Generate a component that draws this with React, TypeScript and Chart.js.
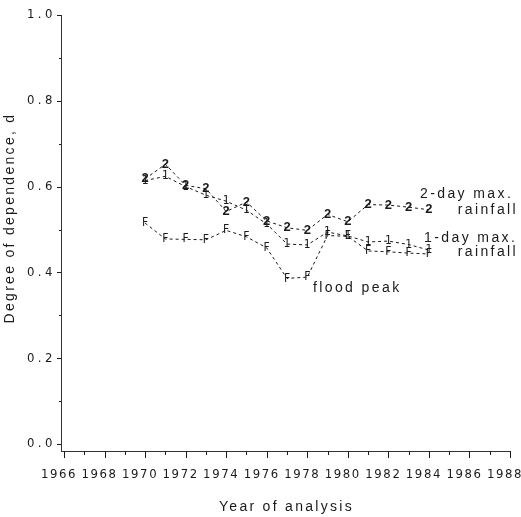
import React, { useEffect, useRef } from 'react';
import { Chart, registerables } from 'chart.js';

Chart.register(...registerables);

// ---- data ----
const years = [1970, 1971, 1972, 1973, 1974, 1975, 1976, 1977, 1978, 1979, 1980, 1981, 1982, 1983, 1984];
const twoDayMax = [0.618, 0.652, 0.603, 0.595, 0.542, 0.564, 0.52, 0.504, 0.498, 0.535, 0.518, 0.558, 0.557, 0.552, 0.546];
const oneDayMax = [0.614, 0.624, 0.6, 0.58, 0.566, 0.545, 0.513, 0.466, 0.464, 0.494, 0.485, 0.471, 0.473, 0.465, 0.452];
const floodPeak = [0.515, 0.478, 0.477, 0.476, 0.498, 0.483, 0.457, 0.386, 0.389, 0.486, 0.484, 0.45, 0.448, 0.445, 0.443];

const seriesMarkers = ['2', '1', 'F'];

const xTickValues = [1966, 1967, 1968, 1969, 1970, 1971, 1972, 1973, 1974, 1975, 1976, 1977, 1978, 1979, 1980, 1981, 1982, 1983, 1984, 1985, 1986, 1987, 1988];
const xTickLabels = ['1966', '1968', '1970', '1972', '1974', '1976', '1978', '1980', '1982', '1984', '1986', '1988'];
const yTickValues = [0, 0.1, 0.2, 0.3, 0.4, 0.5, 0.6, 0.7, 0.8, 0.9, 1.0];
const yTickLabels = ['0.0', '0.2', '0.4', '0.6', '0.8', '1.0'];

const xTitle = 'Year of analysis';
const yTitle = 'Degree of dependence, d';

// annotation texts anchored in data coordinates
const annotations = [
  { text: '2-day max.', x: 1983.56, y: 0.583, align: 'left' },
  { text: 'rainfall', x: 1988.4, y: 0.545, align: 'right' },
  { text: '1-day max.', x: 1983.76, y: 0.48, align: 'left' },
  { text: 'rainfall', x: 1988.4, y: 0.448, align: 'right' },
  { text: 'flood peak', x: 1978.28, y: 0.364, align: 'left' },
];

const NARROW = '"Liberation Sans Narrow", "DejaVu Sans Condensed", "Liberation Sans", sans-serif';
const SANS = '"Liberation Sans", Arial, sans-serif';
const INK = '#1a1a1a';

function spaced(ctx: any, spacing: number, fn: () => void) {
  ctx.save();
  ctx.letterSpacing = spacing + 'px';
  fn();
  ctx.restore();
}

const paperPlugin = {
  id: 'paperPlot',
  afterDatasetsDraw(chart: any) {
    const ctx = chart.ctx;
    ctx.save();
    ctx.fillStyle = INK;
    ctx.textAlign = 'center';
    ctx.textBaseline = 'middle';
    chart.data.datasets.forEach((ds: any, di: number) => {
      const meta = chart.getDatasetMeta(di);
      const ch = seriesMarkers[di];
      ctx.font = di === 0 ? 'bold 13px ' + SANS : '12px ' + NARROW;
      meta.data.forEach((pt: any) => {
        ctx.fillText(ch, pt.x, pt.y);
      });
    });
    ctx.restore();
  },
  afterDraw(chart: any) {
    const ctx = chart.ctx;
    const xs = chart.scales.x;
    const ys = chart.scales.y;
    const area = chart.chartArea;
    ctx.save();
    ctx.strokeStyle = INK;
    ctx.fillStyle = INK;
    ctx.lineWidth = 1;
    // y ticks
    yTickValues.forEach((v, i) => {
      const py = Math.round(ys.getPixelForValue(v)) + 0.5;
      const len = i % 2 === 0 ? 4 : 2;
      ctx.beginPath();
      ctx.moveTo(area.left - len, py);
      ctx.lineTo(area.left, py);
      ctx.stroke();
    });
    // x ticks
    xTickValues.forEach((v, i) => {
      const px = Math.round(xs.getPixelForValue(v)) + 0.5;
      const len = i % 2 === 0 ? 7 : 4;
      ctx.beginPath();
      ctx.moveTo(px, area.bottom);
      ctx.lineTo(px, area.bottom + len);
      ctx.stroke();
    });
    // y labels
    spaced(ctx, 3.5, () => {
      ctx.font = '13px ' + NARROW;
      ctx.textAlign = 'right';
      ctx.textBaseline = 'middle';
      yTickLabels.forEach((lab, i) => {
        const py = ys.getPixelForValue(i * 0.2);
        ctx.fillText(lab, area.left - 5, py);
      });
    });
    // x labels
    spaced(ctx, 1.6, () => {
      ctx.font = '13px ' + NARROW;
      ctx.textAlign = 'center';
      ctx.textBaseline = 'middle';
      xTickLabels.forEach((lab, i) => {
        const px = xs.getPixelForValue(1966 + i * 2);
        ctx.fillText(lab, px - 5, area.bottom + 24);
      });
    });
    // axis titles
    spaced(ctx, 2.3, () => {
      ctx.font = '14px ' + SANS;
      ctx.textAlign = 'center';
      ctx.textBaseline = 'middle';
      ctx.fillText(xTitle, (area.left + area.right) / 2 + 1, area.bottom + 56);
      ctx.save();
      ctx.translate(10, 218);
      ctx.rotate(-Math.PI / 2);
      ctx.fillText(yTitle, 0, 0);
      ctx.restore();
    });
    // annotations
    spaced(ctx, 2.4, () => {
      ctx.font = '14px ' + SANS;
      ctx.textBaseline = 'middle';
      annotations.forEach((a) => {
        ctx.textAlign = a.align;
        ctx.fillText(a.text, xs.getPixelForValue(a.x), ys.getPixelForValue(a.y));
      });
    });
    ctx.restore();
  },
};

export default function App() {
  const ref = useRef<HTMLCanvasElement | null>(null);
  useEffect(() => {
    if (!ref.current) return;
    const mk = (vals: number[]) => years.map((yr, i) => ({ x: yr, y: vals[i] }));
    const dsStyle = {
      borderColor: INK,
      borderWidth: 1,
      borderDash: [3, 3],
      pointRadius: 0,
      tension: 0,
      fill: false,
    };
    const chart = new Chart(ref.current, {
      type: 'line',
      data: {
        datasets: [
          { label: '2-day max. rainfall', data: mk(twoDayMax), ...dsStyle },
          { label: '1-day max. rainfall', data: mk(oneDayMax), ...dsStyle },
          { label: 'flood peak', data: mk(floodPeak), ...dsStyle },
        ],
      },
      options: {
        animation: false,
        responsive: true,
        maintainAspectRatio: false,
        layout: { padding: { left: 61, top: 15, right: 11, bottom: 66 } },
        plugins: { legend: { display: false }, tooltip: { enabled: false } },
        scales: {
          x: {
            type: 'linear',
            min: 1965.852,
            max: 1988,
            grid: { display: false, drawTicks: false, tickLength: 0 },
            ticks: { display: false, padding: 0 },
            border: { display: true, color: '#333', width: 1 },
          },
          y: {
            type: 'linear',
            min: -0.0163,
            max: 1.0,
            grid: { display: false, drawTicks: false, tickLength: 0 },
            ticks: { display: false, padding: 0 },
            border: { display: true, color: '#333', width: 1 },
          },
        },
      },
      plugins: [paperPlugin],
    } as any);
    return () => chart.destroy();
  }, []);
  return (
    <div style={{ position: 'fixed', left: 0, top: 0, width: 521, height: 517, background: '#fff' }}>
      <canvas ref={ref} />
    </div>
  );
}
